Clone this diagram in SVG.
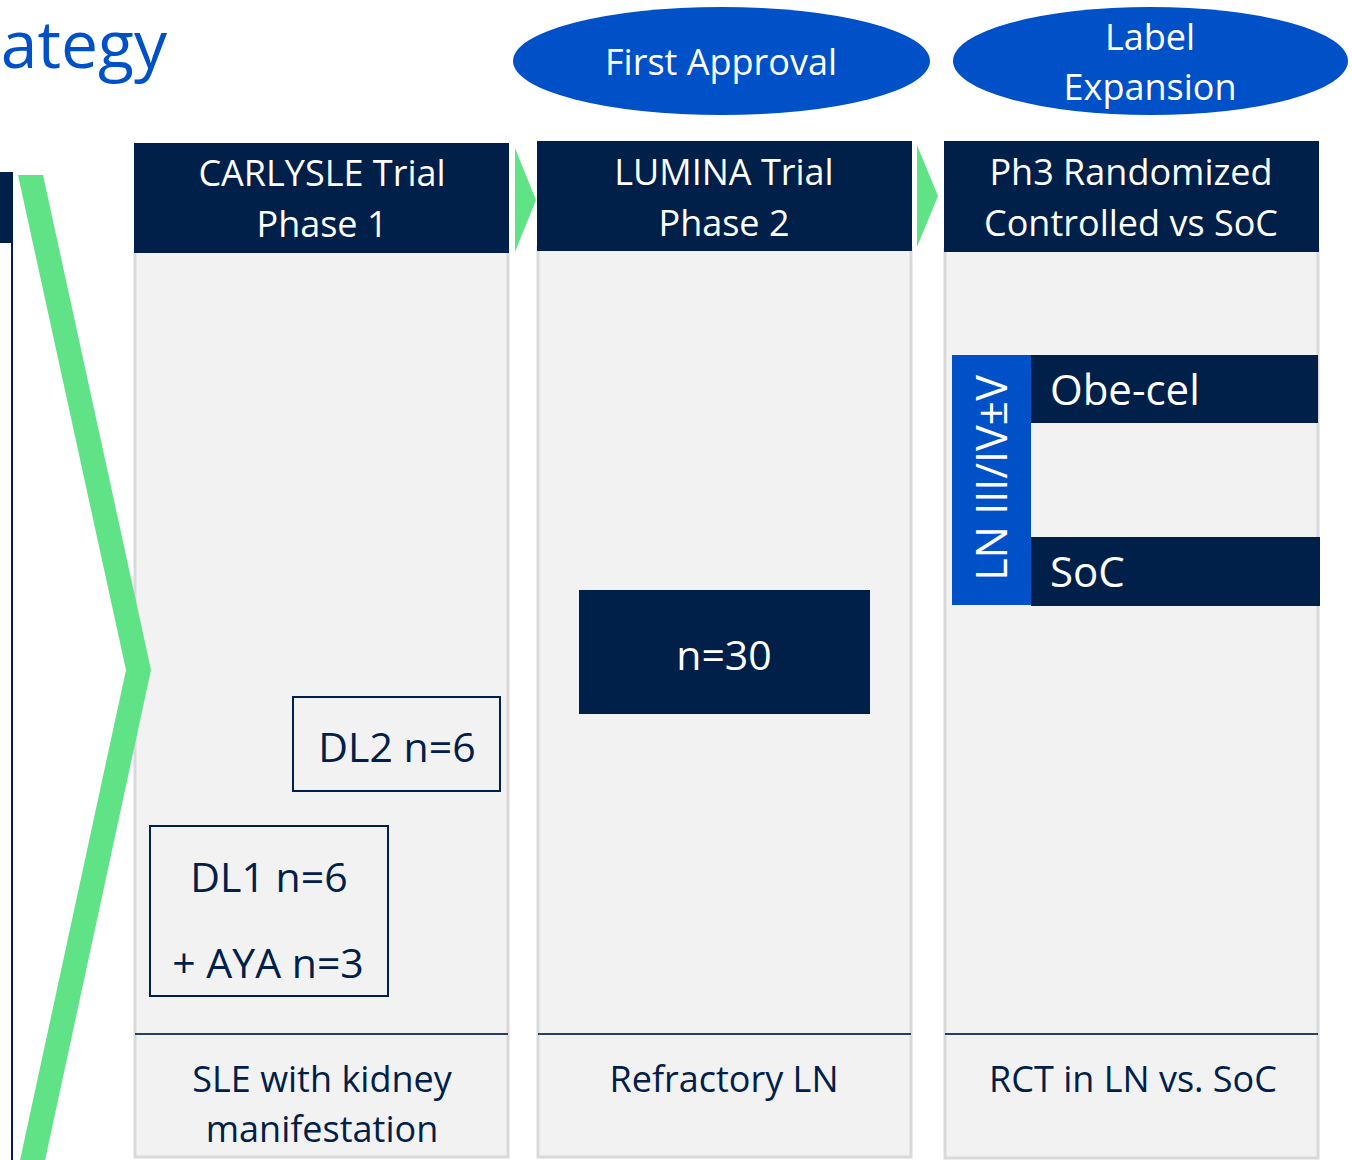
<svg xmlns="http://www.w3.org/2000/svg" width="1352" height="1160" viewBox="0 0 1352 1160">
<style>
text{font-family:"Open Sans","Noto Sans",sans-serif}
.w{fill:#ffffff}
.n{fill:#00204a}
.hd{font-size:36px;text-anchor:middle}
.col{fill:#f2f2f2;stroke:#d9d9d9;stroke-width:3}
.head{fill:#00204a}
.sep{stroke:#2a3f5f;stroke-width:2}
.green{fill:#5fe386}
.ell{fill:#0050c8}
.box{fill:none;stroke:#00204a;stroke-width:2}
</style>
<rect width="1352" height="1160" fill="#ffffff"/>
<g id="title">
<text x="167" y="68" font-size="66" fill="#0050c8" text-anchor="end">ategy</text>
</g>
<g id="left-panel">
<rect x="-2" y="172" width="15" height="71" fill="#00204a"/>
<line x1="12" y1="243" x2="12" y2="1162" stroke="#00204a" stroke-width="2"/>
</g>
<g id="first-approval">
<ellipse class="ell" cx="721.5" cy="61" rx="208.5" ry="54"/>
<text class="w hd" x="721" y="75">First Approval</text>
</g>
<g id="label-expansion">
<ellipse class="ell" cx="1150.5" cy="61" rx="197.5" ry="54"/>
<text class="w hd" x="1150" y="50">Label</text>
<text class="w hd" x="1150" y="100">Expansion</text>
</g>
<g id="col-phase1">
<rect class="col" x="135" y="250" width="373" height="907"/>
<rect class="head" x="134" y="143" width="375" height="110"/>
<text class="w hd" x="322" y="186">CARLYSLE Trial</text>
<text class="w hd" x="322" y="237">Phase 1</text>
<line class="sep" x1="135" y1="1034" x2="508" y2="1034"/>
<text class="n hd" x="322" y="1092">SLE with kidney</text>
<text class="n hd" x="322" y="1142">manifestation</text>
</g>
<g id="big-chevron">
<polygon class="green" points="18,175 43,175 151,670 44,1165 19,1165 126,670"/>
</g>
<g id="dl2">
<rect class="box" x="293" y="697" width="207" height="94"/>
<text class="n" x="397" y="762" font-size="41" text-anchor="middle">DL2 n=6</text>
</g>
<g id="dl1">
<rect class="box" x="150" y="826" width="238" height="170"/>
<text class="n" x="269" y="892" font-size="41" text-anchor="middle">DL1 n=6</text>
<text class="n" x="268" y="978" font-size="41" text-anchor="middle">+ AYA n=3</text>
</g>
<g id="col-phase2">
<rect class="col" x="538" y="248" width="373" height="909"/>
<rect class="head" x="537" y="141" width="375" height="110"/>
<text class="w hd" x="724" y="185">LUMINA Trial</text>
<text class="w hd" x="724" y="236">Phase 2</text>
<line class="sep" x1="538" y1="1034" x2="911" y2="1034"/>
<text class="n hd" x="724" y="1092">Refractory LN</text>
</g>
<g id="n30">
<rect x="579" y="590" width="291" height="124" fill="#00204a"/>
<text class="w" x="724" y="670" font-size="41" text-anchor="middle">n=30</text>
</g>
<g id="col-phase3">
<rect class="col" x="945" y="249" width="373" height="909"/>
<rect class="head" x="944" y="141" width="375" height="111"/>
<text class="w hd" x="1131" y="185">Ph3 Randomized</text>
<text class="w hd" x="1131" y="236">Controlled vs SoC</text>
<line class="sep" x1="945" y1="1034" x2="1318" y2="1034"/>
<text class="n hd" x="1133" y="1092">RCT in LN vs. SoC</text>
</g>
<g id="ln-class">
<rect x="952" y="355" width="79" height="250" fill="#0050c8"/>
<text class="w" transform="translate(1007,478) rotate(-90)" font-size="43" text-anchor="middle">LN III/IV±V</text>
</g>
<g id="obe-cel">
<rect x="1031" y="355" width="287" height="68" fill="#00204a"/>
<text class="w" x="1050" y="405" font-size="42">Obe-cel</text>
</g>
<g id="soc">
<rect x="1031" y="537" width="289" height="69" fill="#00204a"/>
<text class="w" x="1050" y="587" font-size="42">SoC</text>
</g>
<g id="connectors">
<polygon class="green" points="515,148 536,200 515,252"/>
<polygon class="green" points="917,145 938,196 917,247"/>
</g>
</svg>
